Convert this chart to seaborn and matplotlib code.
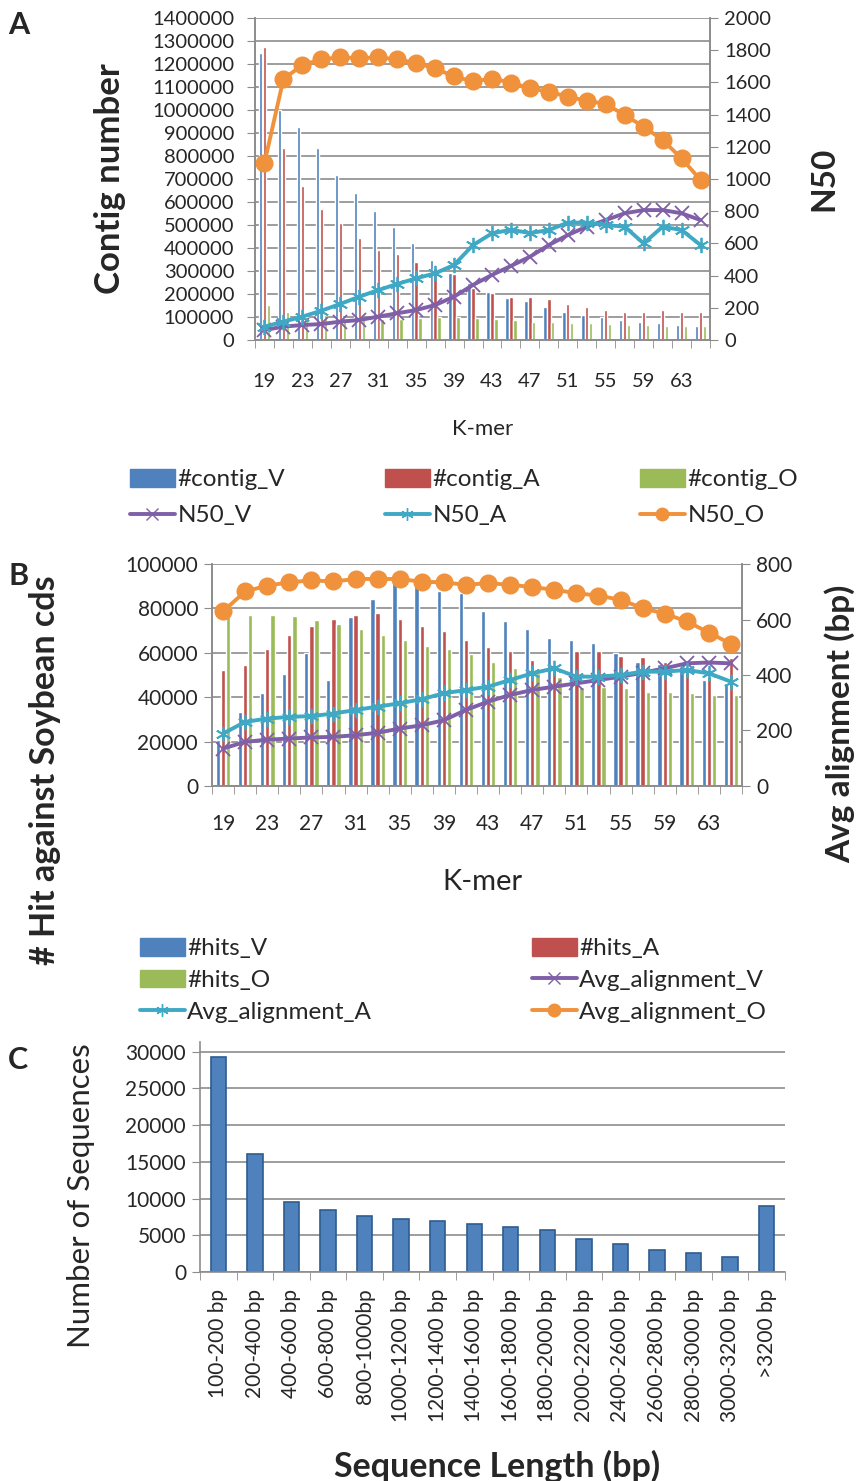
import numpy as np
import pandas as pd
import matplotlib
matplotlib.use("Agg")
import matplotlib.pyplot as plt
import seaborn as sns
from matplotlib.lines import Line2D
from matplotlib.patches import Patch

sns.set_style("white")
plt.rcParams["font.family"] = ["Lato", "DejaVu Sans"]

# ---- data ----
kmer = [19, 21, 23, 25, 27, 29, 31, 33, 35, 37, 39, 41,
        43, 45, 47, 49, 51, 53, 55, 57, 59, 61, 63, 65]

contig_V = [1250000, 1000000, 925000, 835000, 717000, 638000, 561000, 492000,
            420000, 348000, 290000, 248000, 210000, 181000, 168000, 143000,
            122000, 109000, 102000, 87000, 80000, 73000, 65000, 61000]
contig_A = [1272000, 835000, 670000, 569000, 508000, 445000, 391000, 373000,
            341000, 312000, 288000, 228000, 204000, 188000, 185000, 178000,
            157000, 143000, 130000, 122000, 122000, 130000, 122000, 122000]
contig_O = [152000, 122000, 100000, 110000, 95000, 90000, 90000, 92000,
            95000, 100000, 98000, 95000, 90000, 85000, 80000, 80000,
            75000, 72000, 70000, 66000, 64000, 62000, 60000, 60000]

n50_V = [62, 83, 93, 99, 114, 124, 145, 166, 186, 217, 269, 342,
         404, 460, 517, 590, 652, 704, 745, 787, 807, 807, 787, 745]
n50_A = [83, 114, 145, 182, 224, 269, 310, 348, 383, 414, 466, 590,
         662, 685, 664, 683, 729, 729, 714, 704, 600, 704, 683, 590]
n50_O = [1100, 1621, 1708, 1743, 1756, 1750, 1756, 1743, 1720, 1687, 1637, 1606,
         1623, 1599, 1563, 1542, 1511, 1486, 1466, 1397, 1325, 1242, 1128, 994]

hits_V = [20600, 33400, 41700, 50500, 60000, 47800, 76000, 84200,
          92000, 91000, 88000, 87000, 78800, 74100, 70600, 66600,
          65800, 64300, 59800, 56000, 55000, 53800, 47700, 46200]
hits_A = [52300, 54500, 61800, 68200, 72100, 75200, 77100, 77900,
          75200, 72100, 70000, 65800, 62700, 61000, 56800, 53000,
          61000, 61000, 58600, 58000, 56000, 52300, 49000, 57500]
hits_O = [76400, 77100, 77100, 76400, 74600, 73000, 70600, 68100,
          65800, 63100, 61600, 59600, 56000, 53000, 50800, 49200,
          44700, 44700, 44000, 42500, 42500, 41700, 41000, 41000]

aln_V = [135, 159, 167, 171, 175, 177, 183, 192, 207, 219, 237, 274,
         304, 328, 346, 358, 370, 382, 394, 408, 424, 442, 445, 442]
aln_A = [189, 231, 243, 249, 252, 261, 274, 286, 298, 313, 334, 346,
         358, 382, 406, 424, 394, 394, 400, 412, 412, 418, 406, 376]
aln_O = [629, 701, 722, 734, 741, 737, 746, 746, 746, 736, 734, 725,
         731, 725, 717, 707, 695, 686, 671, 641, 621, 593, 553, 512]

seq_bins = ["100-200 bp", "200-400 bp", "400-600 bp", "600-800 bp", "800-1000bp",
            "1000-1200 bp", "1200-1400 bp", "1400-1600 bp", "1600-1800 bp",
            "1800-2000 bp", "2000-2200 bp", "2400-2600 bp", "2600-2800 bp",
            "2800-3000 bp", "3000-3200 bp", ">3200 bp"]
seq_counts = [29200, 16000, 9500, 8400, 7600, 7200, 7000, 6500,
              6100, 5700, 4500, 3800, 3000, 2600, 2100, 9000]

# ---- colours ----
BLUE, RED, GREEN = "#4F81BD", "#C0504D", "#9BBB59"
PURPLE, CYAN, ORANGE = "#7F5FA8", "#3FA9C5", "#F0913C"
GRID = "#8C8C8C"

W, H = 863, 1481
fig = plt.figure(figsize=(W / 100, H / 100), dpi=100)


def rect(l, r, t, b):
    return [l / W, 1 - b / H, (r - l) / W, (b - t) / H]


def style_kmer_axes(ax, ax2, ymax, step, rmax, rstep, pad, ypad, fs):
    n = len(kmer)
    ax.set_xlim(-0.5, n - 0.5)
    ax.set_ylim(0, ymax)
    ax.set_yticks(np.arange(0, ymax + 1, step))
    ax.ticklabel_format(axis="y", style="plain", useOffset=False)
    ax.yaxis.grid(True, color=GRID, lw=1.2)
    ax.set_axisbelow(True)
    ax.set_xticks(np.arange(0, n, 2))
    ax.set_xticklabels([str(k) for k in kmer[::2]])
    ax.set_xticks(np.arange(-0.5, n, 1), minor=True)
    ax.tick_params(axis="x", which="major", length=0, pad=pad, labelsize=fs)
    ax.tick_params(axis="x", which="minor", length=6, color=GRID, direction="out", bottom=True)
    ax.tick_params(axis="y", length=6, color=GRID, direction="out", left=True, labelsize=fs, pad=ypad)
    ax2.set_ylim(0, rmax)
    ax2.set_yticks(np.arange(0, rmax + 1, rstep))
    ax2.tick_params(axis="y", length=6, color=GRID, direction="out", right=True, labelsize=fs, pad=4)
    for a in (ax, ax2):
        a.spines["top"].set_visible(False)
        for s in ("left", "right", "bottom"):
            a.spines[s].set_color(GRID)
            a.spines[s].set_linewidth(1.2)
    ax.set_xlabel("")
    ax.set_ylabel("")
    ax2.set_ylabel("")


def draw_lines(ax2, series):
    x = np.arange(len(kmer))
    for vals, col, mk, ms, mew, lab in series:
        sns.lineplot(x=x, y=vals, ax=ax2, color=col, lw=2.8, marker=mk,
                     markersize=ms, markeredgewidth=mew, markeredgecolor=col,
                     markerfacecolor=col, label=lab, legend=False)


def legend_col(entries, x, y, fs, spacing):
    handles = []
    labels = []
    for kind, col, mk, lab in entries:
        if kind == "bar":
            handles.append(Patch(facecolor=col, edgecolor=col))
        else:
            handles.append(Line2D([], [], color=col, lw=2.8, marker=mk, markersize=9,
                                  markerfacecolor=col, markeredgecolor=col))
        labels.append(lab)
    fig.legend(handles, labels, loc="upper left", bbox_to_anchor=(x / W, 1 - y / H),
               frameon=False, fontsize=fs, handlelength=1.85, handleheight=0.75,
               handletextpad=0.1, labelspacing=spacing, borderaxespad=0, borderpad=0)


# ================= Panel A =================
axA = fig.add_axes(rect(255, 710, 18, 340))
dfA = pd.DataFrame({"kmer": kmer * 3,
                    "value": contig_V + contig_A + contig_O,
                    "series": ["#contig_V"] * 24 + ["#contig_A"] * 24 + ["#contig_O"] * 24})
sns.barplot(data=dfA, x="kmer", y="value", hue="series", ax=axA,
            palette=[BLUE, RED, GREEN], width=0.62, gap=0.15, legend=False,
            saturation=1, errorbar=None)
axA2 = axA.twinx()
draw_lines(axA2, [(n50_V, PURPLE, "x", 10, 1.3, "N50_V"),
                  (n50_A, CYAN, (6, 2, 0), 11, 1.3, "N50_A"),
                  (n50_O, ORANGE, "o", 12, 1, "N50_O")])
style_kmer_axes(axA, axA2, 1400000, 100000, 2000, 200, 24, 9, 14.5)
axA.set_ylabel("Contig number", fontsize=25, fontweight="bold")
axA.yaxis.set_label_coords(-0.283, 0.5)
axA2.set_ylabel("N50", fontsize=24, fontweight="bold")
axA2.yaxis.set_label_coords(1.218, 0.5)
axA.set_xlabel("K-mer", fontsize=16)
axA.xaxis.set_label_coords(0.50, -0.245)

legend_col([("bar", BLUE, None, "#contig_V"), ("line", PURPLE, "x", "N50_V")], 130, 469, 17.5, 0.6)
legend_col([("bar", RED, None, "#contig_A"), ("line", CYAN, (6, 2, 0), "N50_A")], 385, 469, 17.5, 0.6)
legend_col([("bar", GREEN, None, "#contig_O"), ("line", ORANGE, "o", "N50_O")], 640, 469, 17.5, 0.6)

# ================= Panel B =================
axB = fig.add_axes(rect(212, 742, 564, 786))
dfB = pd.DataFrame({"kmer": kmer * 3,
                    "value": hits_V + hits_A + hits_O,
                    "series": ["#hits_V"] * 24 + ["#hits_A"] * 24 + ["#hits_O"] * 24})
sns.barplot(data=dfB, x="kmer", y="value", hue="series", ax=axB,
            palette=[BLUE, RED, GREEN], width=0.7, gap=0.15, legend=False,
            saturation=1, errorbar=None)
axB2 = axB.twinx()
draw_lines(axB2, [(aln_V, PURPLE, "x", 10, 1.3, "Avg_alignment_V"),
                  (aln_A, CYAN, (6, 2, 0), 11, 1.3, "Avg_alignment_A"),
                  (aln_O, ORANGE, "o", 12, 1, "Avg_alignment_O")])
style_kmer_axes(axB, axB2, 100000, 20000, 800, 200, 20, 4, 15)
axB.set_ylabel("# Hit against Soybean cds", fontsize=24.5, fontweight="bold")
axB.yaxis.set_label_coords(-0.284, 0.07)
axB2.set_ylabel("Avg alignment (bp)", fontsize=24, fontweight="bold")
axB2.yaxis.set_label_coords(1.155, 0.28)
axB.set_xlabel("K-mer", fontsize=21)
axB.xaxis.set_label_coords(0.51, -0.375)

legend_col([("bar", BLUE, None, "#hits_V"), ("bar", GREEN, None, "#hits_O"),
            ("line", CYAN, (6, 2, 0), "Avg_alignment_A")], 140, 938, 17.5, 0.42)
legend_col([("bar", RED, None, "#hits_A"), ("line", PURPLE, "x", "Avg_alignment_V"),
            ("line", ORANGE, "o", "Avg_alignment_O")], 532, 938, 17.5, 0.42)

# ================= Panel C =================
axC = fig.add_axes(rect(200, 785, 1042, 1272))
dfC = pd.DataFrame({"bin": seq_bins, "count": seq_counts})
sns.barplot(data=dfC, x="bin", y="count", ax=axC, color=BLUE, width=0.42,
            saturation=1, edgecolor="#2E5C8F", linewidth=1.2, errorbar=None)
axC.set_xlim(-0.5, len(seq_bins) - 0.5)
axC.set_ylim(0, 31300)
axC.set_yticks(np.arange(0, 30001, 5000))
axC.yaxis.grid(True, color=GRID, lw=1.2)
axC.set_axisbelow(True)
axC.set_xticks(np.arange(-0.5, len(seq_bins), 1), minor=True)
axC.tick_params(axis="x", which="major", length=0, pad=12, labelsize=15, labelrotation=90)
axC.tick_params(axis="x", which="minor", length=6, color=GRID, direction="out", bottom=True)
axC.tick_params(axis="y", length=6, color=GRID, direction="out", left=True, labelsize=15, pad=4)
for s in ("top", "right"):
    axC.spines[s].set_visible(False)
for s in ("left", "bottom"):
    axC.spines[s].set_color(GRID)
    axC.spines[s].set_linewidth(1.2)
axC.set_ylabel("Number of Sequences", fontsize=22.5)
axC.yaxis.set_label_coords(-0.18, 0.33)
axC.set_xlabel("Sequence Length (bp)", fontsize=24.5, fontweight="bold")
axC.xaxis.set_label_coords(0.508, -0.775)

for letter, y in (("A", 25), ("B", 576), ("C", 1060)):
    fig.text(8 / W, 1 - y / H, letter, fontsize=22, fontweight="bold", va="center")

fig.savefig("out.png", dpi=100)
